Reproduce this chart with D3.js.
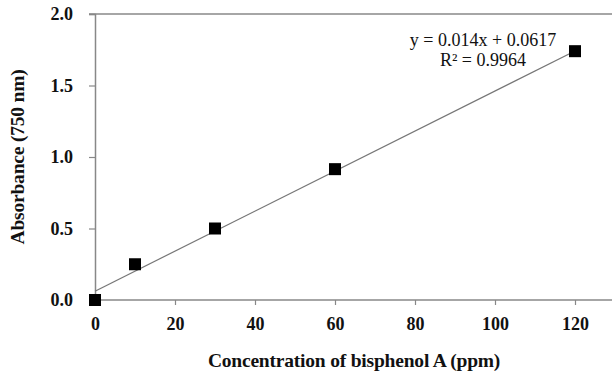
<!DOCTYPE html>
<html><head><meta charset="utf-8">
<script src="https://cdn.jsdelivr.net/npm/d3@7"></script>
<style>body{margin:0;background:#fff}svg{display:block}</style>
</head><body>
<svg id="c" width="612" height="378"></svg>
<script>
const concentration = [0, 10, 30, 60, 120];
const absorbance = [0, 0.25, 0.5, 0.915, 1.74];
const slope = 0.014, intercept = 0.0617;
const xTicks = [0, 20, 40, 60, 80, 100, 120];
const yTicks = [0, 0.5, 1.0, 1.5, 2.0];
const equationText = "y = 0.014x + 0.0617";
const r2Text = "R² = 0.9964";

const svg = d3.select("#c");
const x = d3.scaleLinear().domain([0, 130]).range([95, 615]);
const y = d3.scaleLinear().domain([0, 2]).range([300, 14]);
const font = "'Liberation Serif','Times New Roman',serif";

// top border
svg.append("line").attr("x1", 89).attr("x2", 612).attr("y1", y(2)).attr("y2", y(2))
  .attr("stroke", "#888").attr("stroke-width", 1.5);

const xa = svg.append("g").attr("transform", `translate(0,${y(0)})`)
  .call(d3.axisBottom(x).tickValues(xTicks).tickFormat(d3.format("d")).tickSizeOuter(0).tickSize(5).tickPadding(12));
const ya = svg.append("g").attr("transform", `translate(${x(0)},0)`)
  .call(d3.axisLeft(y).tickValues(yTicks).tickFormat(d3.format(".1f")).tickSizeOuter(0).tickSize(6).tickPadding(16));
[xa, ya].forEach(a => {
  a.select(".domain").attr("stroke", "#888").attr("stroke-width", 1.5);
  a.selectAll(".tick line").attr("stroke", "#888").attr("stroke-width", 1.2);
  a.selectAll("text").attr("font-family", font).attr("font-weight", "bold").attr("font-size", 18).attr("fill", "#111");
});
xa.select(".domain").attr("d", `M${x(0)},0H612`);

// trendline
svg.append("line").attr("x1", x(0)).attr("y1", y(intercept))
  .attr("x2", x(120)).attr("y2", y(slope * 120 + intercept))
  .attr("stroke", "#777").attr("stroke-width", 1.2);

// markers
const s = 12;
svg.selectAll("rect.pt").data(concentration).enter().append("rect")
  .attr("x", (d) => x(d) - s / 2).attr("y", (d, i) => y(absorbance[i]) - s / 2)
  .attr("width", s).attr("height", s).attr("fill", "#000");

// equation
svg.append("text").attr("x", 483).attr("y", 46).attr("text-anchor", "middle")
  .attr("font-family", font).attr("font-size", 18).attr("fill", "#111").text(equationText);
svg.append("text").attr("x", 483).attr("y", 66).attr("text-anchor", "middle")
  .attr("font-family", font).attr("font-size", 18).attr("fill", "#111").text(r2Text);

// axis titles
svg.append("text").attr("x", 354).attr("y", 367).attr("text-anchor", "middle")
  .attr("font-family", font).attr("font-weight", "bold").attr("font-size", 19.5).attr("fill", "#111")
  .attr("letter-spacing", -0.2)
  .text("Concentration of bisphenol A (ppm)");
svg.append("text").attr("transform", "translate(24,157) rotate(-90)").attr("text-anchor", "middle")
  .attr("font-family", font).attr("font-weight", "bold").attr("font-size", 19.5).attr("fill", "#111")
  .attr("letter-spacing", -0.2)
  .text("Absorbance (750 nm)");
</script>
</body></html>
